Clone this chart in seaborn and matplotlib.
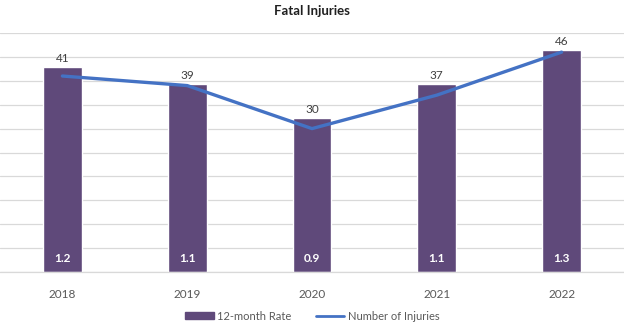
import numpy as np
import pandas as pd
import matplotlib
matplotlib.use("Agg")
import matplotlib.pyplot as plt
import seaborn as sns
from matplotlib.lines import Line2D
from matplotlib.patches import Patch

years = ["2018", "2019", "2020", "2021", "2022"]
rate = [1.2, 1.1, 0.9, 1.1, 1.3]
injuries = [41, 39, 30, 37, 46]

bar_color = "#5F497A"
line_color = "#4472C4"
text_color = "#595959"

sns.set_theme(style="white")
plt.rcParams["font.family"] = ["Lato", "DejaVu Sans"]

fig = plt.figure(figsize=(6.24, 3.24), dpi=100)
ax = fig.add_axes([0.0, 52 / 324, 1.0, 239 / 324])

df = pd.DataFrame({"year": years, "rate": rate, "injuries": injuries})
sns.barplot(data=df, x="year", y="rate", color=bar_color, width=0.31,
            saturation=1, ax=ax, zorder=2)
ax.set_xlim(-0.5, len(years) - 0.5)
ax.set_ylim(0, 1.4)
ax.set_yticks(np.linspace(0, 1.4, 11))
ax.yaxis.grid(True, color="#D9D9D9", linewidth=0.9, zorder=0)
ax.set_axisbelow(True)
ax.set_yticklabels([])
ax.tick_params(axis="y", length=0)
ax.tick_params(axis="x", length=0, pad=12, labelsize=8.5, labelcolor=text_color)
ax.set_xlabel("")
ax.set_ylabel("")
for s in ["top", "left", "right"]:
    ax.spines[s].set_visible(False)
ax.spines["bottom"].set_color("#D9D9D9")
ax.spines["bottom"].set_linewidth(0.9)

ax2 = ax.twinx()
sns.lineplot(x=np.arange(len(years)), y=injuries, color=line_color,
             linewidth=2.4, ax=ax2, zorder=3)
ax2.set_ylim(0, 50)
ax2.set_yticks([])
ax2.set_ylabel("")
for s in ax2.spines.values():
    s.set_visible(False)

for i, (r, n) in enumerate(zip(rate, injuries)):
    ax.annotate(str(n), (i, r), xytext=(0, 2.5), textcoords="offset points",
                ha="center", va="bottom", fontsize=8.5, color="#404040")
    ax.annotate(f"{r:.1f}", (i, 0), xytext=(0, 9.5), textcoords="offset points",
                ha="center", va="center", fontsize=8.5, color="white",
                fontweight="bold")

fig.text(0.5, 1 - 11 / 324, "Fatal Injuries", ha="center", va="center",
         fontsize=9.5, fontweight="bold", color="#202020")

handles = [Patch(facecolor=bar_color, edgecolor=bar_color),
           Line2D([0], [0], color=line_color, linewidth=2)]
fig.legend(handles, ["12-month Rate", "Number of Injuries"], loc="center",
           bbox_to_anchor=(0.5, 8 / 324), ncol=2, frameon=False,
           fontsize=8, labelcolor=text_color, handlelength=2.6,
           handleheight=0.6, handletextpad=0.3, columnspacing=2.2)

fig.savefig("out.png", dpi=100)
